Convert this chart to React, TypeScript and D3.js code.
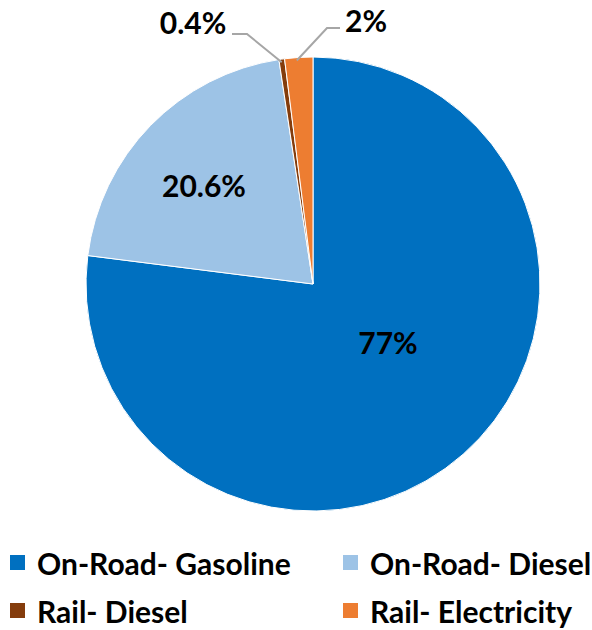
import React from "react";
import * as d3 from "d3";

const categories = ["On-Road- Gasoline", "On-Road- Diesel", "Rail- Diesel", "Rail- Electricity"];
const values = [77, 20.6, 0.4, 2];
const labels = ["77%", "20.6%", "0.4%", "2%"];
const colors = ["#0070C0", "#9DC3E6", "#843C0C", "#ED7D31"];

export default function App() {
  const W = 592, H = 630;
  const cx = 313, cy = 284, r = 227;
  const pie = d3.pie<number>().sort(null).value((d) => d)(values);
  const arc = d3.arc<d3.PieArcDatum<number>>().innerRadius(0).outerRadius(r);
  const font = "Lato, 'Open Sans', sans-serif";
  const legendItems = categories.map((c, i) => ({
    c,
    color: colors[i],
    x: i % 2 === 0 ? 10 : 343,
    y: i < 2 ? 563 : 611,
  }));
  const outerPt = (i: number, k: number) => {
    const a = (pie[i].startAngle + pie[i].endAngle) / 2;
    return [cx + Math.sin(a) * r * k, cy - Math.cos(a) * r * k];
  };
  const p2 = outerPt(2, 1.0);
  const p3 = outerPt(3, 1.0);
  const lf = 30;
  return (
    <svg width={W} height={H} style={{ position: "absolute", left: 0, top: 0, background: "#fff" }}>
      <g transform={`translate(${cx},${cy})`}>
        {pie.map((d, i) => (
          <path key={i} d={arc(d) || ""} fill={colors[i]} stroke="#fff" strokeWidth={1} />
        ))}
      </g>
      <text x={388} y={342} textAnchor="middle" dominantBaseline="central" fontFamily={font} fontWeight={700} fontSize={lf} fill="#000">{labels[0]}</text>
      <text x={204} y={185} textAnchor="middle" dominantBaseline="central" fontFamily={font} fontWeight={700} fontSize={lf} fill="#000">{labels[1]}</text>
      <polyline points={`232,34 247,34 ${p2[0]},${p2[1] + 3}`} fill="none" stroke="#A6A6A6" strokeWidth={2} />
      <polyline points={`340,28 327,28 ${p3[0] - 2},${p3[1] + 3}`} fill="none" stroke="#A6A6A6" strokeWidth={2} />
      <text x={193} y={22} textAnchor="middle" dominantBaseline="central" fontFamily={font} fontWeight={700} fontSize={lf} fill="#000">{labels[2]}</text>
      <text x={366} y={20} textAnchor="middle" dominantBaseline="central" fontFamily={font} fontWeight={700} fontSize={lf} fill="#000">{labels[3]}</text>
      {legendItems.map((l, i) => (
        <g key={i}>
          <rect x={l.x} y={l.y - 8} width={15} height={15} fill={l.color} />
          <text x={l.x + 27} y={l.y} dominantBaseline="central" fontFamily={font} fontWeight={700} fontSize={30} fill="#000">{l.c}</text>
        </g>
      ))}
    </svg>
  );
}
